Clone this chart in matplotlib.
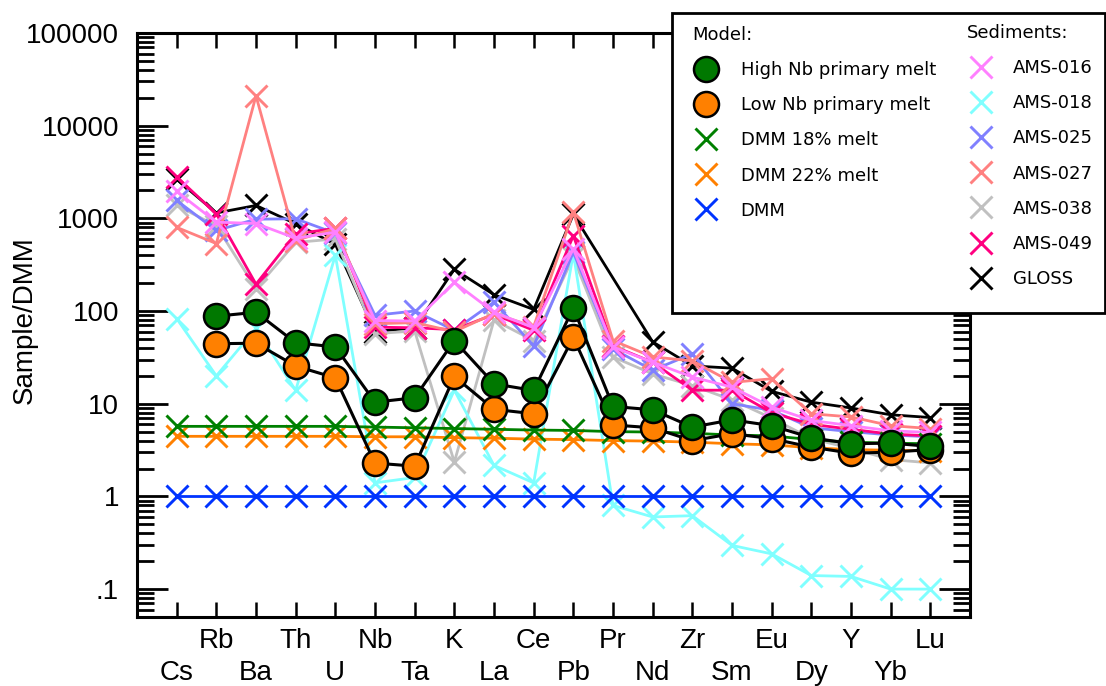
import numpy as np
import matplotlib
matplotlib.use("Agg")
import matplotlib.pyplot as plt
from matplotlib.lines import Line2D
from matplotlib.patches import Rectangle
from matplotlib.ticker import FixedLocator, FixedFormatter, LogLocator, NullFormatter

nan = np.nan

elements = ["Cs", "Rb", "Ba", "Th", "U", "Nb", "Ta", "K", "La", "Ce",
            "Pb", "Pr", "Nd", "Zr", "Sm", "Eu", "Dy", "Y", "Yb", "Lu"]

# Model melts (normalised to DMM)
high_nb_melt = [nan, 88, 97, 45.5, 41, 10.4, 11.6, 48, 16.4, 13.9,
                108, 9.35, 8.6, 5.6, 6.7, 5.8, 4.3, 3.7, 3.76, 3.46]
low_nb_melt = [nan, 44.4, 45, 25.5, 19, 2.29, 2.12, 19.7, 8.7, 7.8,
               52, 5.9, 5.5, 4.0, 4.75, 4.2, 3.4, 2.93, 3.0, 3.2]
dmm_18 = [5.7, 5.7, 5.7, 5.7, 5.7, 5.6, 5.5, 5.4, 5.3, 5.2,
          5.15, 5.0, 4.95, 4.8, 4.6, 4.5, 4.1, 3.85, 3.75, 3.7]
dmm_22 = [4.45, 4.45, 4.45, 4.45, 4.45, 4.4, 4.4, 4.3, 4.25, 4.15,
          4.1, 4.0, 3.95, 3.85, 3.7, 3.6, 3.35, 3.2, 3.15, 3.1]
dmm = [1.0] * 20

# Sediments (normalised to DMM)
ams_016 = [1950, 910, 880, 610, 710, 79, 78, 204, 97, 66,
           470, 41, 28, 19.4, 15.1, 9.2, 6.6, 5.8, 5.1, 4.9]
ams_018 = [83, 20, 65, 13.9, 400, 1.4, 1.6, 14, 2.16, 1.4,
           420, 0.80, 0.60, 0.62, 0.296, 0.24, 0.14, 0.137, 0.10, 0.10]
ams_025 = [1560, 740, 980, 990, 690, 90, 100, 62, 125, 42,
           430, 39, 23, 34.6, 10, 8.5, 5.5, 5.0, 4.6, 4.4]
ams_027 = [800, 535, 21000, 577, 780, 73, 75, 60, 94, 68,
           1170, 48, 32, 29, 17, 18.6, 7.8, 7.2, 5.8, 5.4]
ams_038 = [1380, 830, 175, 550, 600, 57, 61, 2.34, 80, 48,
           380, 32, 21, 15.7, 11, 7.0, 4.2, 3.3, 2.5, 2.3]
ams_049 = [2800, 1120, 195, 680, 780, 67, 66, 63, 92, 62,
           650, 42, 28, 14, 14, 8.0, 6.0, 5.3, 4.7, 4.5]
gloss = [2636, 1144, 1378, 875, 525, 60, 66, 282, 150, 104,
         1105, nan, 46.5, 25.6, 24.2, 13.6, 10.4, 9.0, 7.6, 7.1]

x = np.arange(len(elements))

W, H = 1106, 686
fig = plt.figure(figsize=(W / 100, H / 100), dpi=100)
ax = fig.add_axes([137 / W, (H - 617) / H, (970 - 137) / W, (617 - 33) / H])


def draw(values, **style):
    v = np.asarray(values, dtype=float)
    ok = np.isfinite(v)
    return ax.plot(x[ok], v[ok], **style)[0]


xkw = dict(marker="x", markersize=16, markeredgewidth=2.1, linewidth=2.0)

sediments = [
    ("GLOSS", gloss, "#000000"),
    ("AMS-038", ams_038, "#c0c0c0"),
    ("AMS-018", ams_018, "#80ffff"),
    ("AMS-025", ams_025, "#8080ff"),
    ("AMS-049", ams_049, "#ff0080"),
    ("AMS-027", ams_027, "#ff8080"),
    ("AMS-016", ams_016, "#ff80ff"),
]
for name, vals, col in sediments:
    draw(vals, color=col, **xkw)

draw(dmm_22, color="#ff8000", **xkw)
draw(dmm_18, color="#008000", **xkw)
draw(dmm, color="#0033ff", **xkw)

ckw = dict(marker="o", markersize=18, markeredgewidth=1.8,
           markeredgecolor="black", color="black", linewidth=2.2)
draw(low_nb_melt, markerfacecolor="#ff8000", **ckw)
draw(high_nb_melt, markerfacecolor="#007800", **ckw)

# Axes, ticks and labels
ax.set_yscale("log")
ax.set_ylim(0.05, 100000)
ax.set_xlim(-1, len(elements))
for s in ax.spines.values():
    s.set_linewidth(2.2)

ax.set_xticks(x)
ax.set_xticklabels(elements, fontsize=20, family="Liberation Sans")
ax.tick_params(axis="x", which="major", direction="in", length=11, width=1.8,
               top=True, bottom=True, pad=8)
for i, t in enumerate(ax.xaxis.get_major_ticks()):
    if i % 2 == 0:
        t.set_pad(8 + 23)

yt = [0.1, 1, 10, 100, 1000, 10000, 100000]
ax.yaxis.set_major_locator(FixedLocator(yt))
ax.yaxis.set_major_formatter(FixedFormatter([".1", "1", "10", "100", "1000", "10000", "100000"]))
ax.yaxis.set_minor_locator(LogLocator(base=10, subs=np.arange(2, 10), numticks=20))
ax.yaxis.set_minor_formatter(NullFormatter())
ax.tick_params(axis="y", which="major", direction="in", length=22, width=2.0,
               left=True, right=True, pad=13, labelsize=20)
ax.tick_params(axis="y", which="minor", direction="in", length=12, width=2.0,
               left=True, right=True)
for lab in ax.get_yticklabels():
    lab.set_family("Liberation Sans")

fig.text(25 / W, 1 - 320 / H, "Sample/DMM", rotation=90, ha="center", va="center",
         fontsize=20, family="Liberation Sans")

# Legend box
fig.add_artist(Rectangle((672 / W, 1 - 313 / H), (1105 - 672) / W, (313 - 13) / H,
                         transform=fig.transFigure, facecolor="white",
                         edgecolor="black", linewidth=2.0, zorder=5))


def proxy(**kw):
    return Line2D([], [], linestyle="none", **kw)


pkw = dict(marker="x", markersize=16, markeredgewidth=2.1)
model_handles = [
    proxy(marker="o", markersize=18, markerfacecolor="#007800",
          markeredgecolor="black", markeredgewidth=1.8),
    proxy(marker="o", markersize=18, markerfacecolor="#ff8000",
          markeredgecolor="black", markeredgewidth=1.8),
    proxy(color="#008000", **pkw),
    proxy(color="#ff8000", **pkw),
    proxy(color="#0033ff", **pkw),
]
model_labels = ["High Nb primary melt", "Low Nb primary melt",
                "DMM 18% melt", "DMM 22% melt", "DMM"]

sed_order = ["AMS-016", "AMS-018", "AMS-025", "AMS-027", "AMS-038", "AMS-049", "GLOSS"]
sed_cols = dict((n, c) for n, _, c in sediments)
sed_handles = [proxy(color=sed_cols[n], **pkw) for n in sed_order]

lkw = dict(frameon=False, fontsize=13, title_fontsize=13, alignment="left",
           handlelength=1.6, labelspacing=0.95, borderaxespad=0, borderpad=0)
leg1 = fig.legend(model_handles, model_labels, title="Model:", loc="upper left",
                  handletextpad=1.1, bbox_to_anchor=(692 / W, 1 - 26 / H), **lkw)
leg2 = fig.legend(sed_handles, sed_order, title="Sediments:", loc="upper left",
                  handletextpad=0.95, bbox_to_anchor=(967 / W, 1 - 24 / H), **lkw)
for lg in (leg1, leg2):
    lg.set_zorder(6)
    lg.get_title().set_family("DejaVu Sans")

fig.savefig("out.png", dpi=100)
